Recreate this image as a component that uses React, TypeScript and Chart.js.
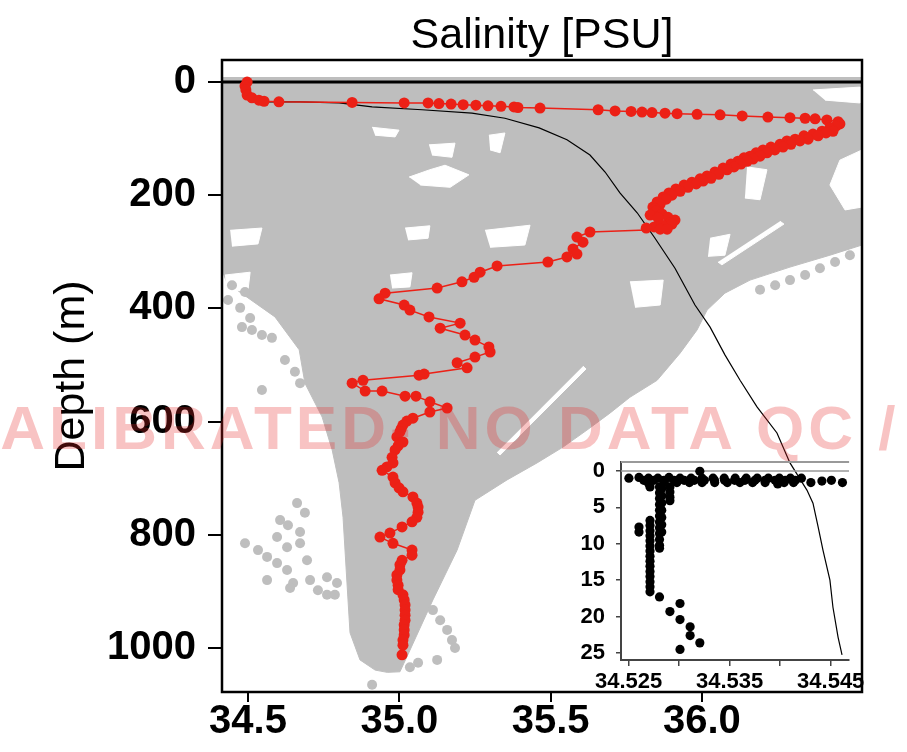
import React, { useEffect, useRef } from "react";
import { Chart, registerables } from "chart.js";
Chart.register(...registerables);

const FONT = "'Liberation Sans', Arial, Helvetica, sans-serif";
const RED = "rgb(236,32,22)";
const GRAY = "rgb(190,190,190)";

const TITLE = "Salinity [PSU]";
const Y_TITLE = "Depth (m)";
const WATERMARK = "UNCALIBRATED- NO DATA QC / UNCALIBRATED";

const X_TICKS = [34.5, 35.0, 35.5, 36.0];
const Y_TICKS = [0, 200, 400, 600, 800, 1000];
const X_RANGE = [34.414, 36.529];
const Y_RANGE = [-38.9, 1077.7];

const INSET_X_TICKS = [34.525, 34.53, 34.535, 34.54, 34.545];
const INSET_X_LABELED = [34.525, 34.535, 34.545];
const INSET_Y_TICKS = [0, 5, 10, 15, 20, 25];
const INSET_X_RANGE = [34.52425, 34.54682];
const INSET_Y_RANGE = [-1.22, 25.95];

// [salinity, depth]
const redProfile: [number, number][] = [
  [34.497, 0], [34.49, 7], [34.493, 14], [34.497, 23], [34.513, 28], [34.536, 32], [34.553, 34], [34.602, 35],
  [34.844, 36], [35.016, 37], [35.095, 37], [35.131, 38], [35.171, 39], [35.211, 40], [35.253, 41], [35.293, 42],
  [35.336, 43], [35.379, 44], [35.392, 45], [35.465, 46], [35.657, 49], [35.713, 51], [35.766, 52], [35.802, 53],
  [35.835, 54], [35.878, 55], [35.918, 56], [35.984, 57], [36.06, 58], [36.133, 60], [36.218, 62], [36.291, 63],
  [36.341, 64], [36.374, 65], [36.413, 67], [36.45, 70], [36.456, 74],
  [36.443, 78], [36.423, 81], [36.433, 87], [36.397, 87], [36.41, 90], [36.367, 92], [36.384, 95], [36.337, 95],
  [36.308, 101], [36.351, 101], [36.281, 104], [36.324, 104], [36.258, 110], [36.294, 110], [36.228, 115],
  [36.268, 115], [36.202, 120], [36.241, 120], [36.179, 125], [36.215, 125], [36.159, 131], [36.192, 131],
  [36.139, 134], [36.169, 136], [36.119, 140], [36.149, 140], [36.096, 145], [36.129, 145], [36.106, 150],
  [36.07, 152], [36.083, 155], [36.043, 159], [36.056, 163], [36.017, 166], [36.03, 170], [35.994, 171],
  [36.004, 175], [35.967, 177], [35.981, 180], [35.941, 182], [35.954, 186], [35.914, 189], [35.928, 193],
  [35.891, 196], [35.901, 200], [35.872, 203], [35.882, 207], [35.852, 212], [35.862, 216], [35.838, 221],
  [35.845, 224], [35.848, 228], [35.868, 233], [35.829, 235], [35.888, 239], [35.855, 240], [35.911, 244],
  [35.895, 249], [35.901, 251], [35.868, 253], [35.842, 256], [35.816, 258], [35.862, 260], [35.885, 260],
  [35.63, 265], [35.587, 274], [35.607, 283], [35.574, 295], [35.587, 304], [35.554, 309], [35.491, 318],
  [35.323, 325], [35.267, 336], [35.247, 345], [35.207, 353], [35.125, 364], [34.953, 373], [34.933, 383],
  [35.016, 394], [35.035, 403], [35.098, 415], [35.201, 426], [35.135, 435], [35.217, 447], [35.25, 456],
  [35.296, 468], [35.3, 477], [35.25, 486], [35.191, 496], [35.224, 505], [35.082, 516], [35.065, 518],
  [34.88, 527], [34.844, 532], [34.887, 546], [34.943, 546], [35.019, 555], [35.055, 555], [35.101, 565],
  [35.158, 576], [35.101, 583], [35.045, 594], [35.025, 599], [35.012, 606], [35.006, 613], [35.002, 618],
  [34.992, 627], [35.012, 636], [34.996, 643], [34.986, 650], [34.976, 663], [34.979, 673], [34.959, 680],
  [34.943, 686], [34.979, 698], [34.986, 708], [34.999, 717], [35.012, 724], [35.045, 733], [35.058, 744],
  [35.062, 751], [35.062, 760], [35.058, 769], [35.042, 777], [35.009, 786], [34.969, 797], [34.936, 804],
  [34.979, 815], [35.042, 827], [35.042, 836], [35.009, 845], [35.002, 853], [35.002, 862], [34.992, 871],
  [34.992, 880], [34.996, 889], [34.996, 897], [35.012, 906], [35.016, 915], [35.019, 924], [35.019, 933],
  [35.019, 942], [35.019, 951], [35.016, 959], [35.016, 968], [35.016, 977], [35.012, 986], [35.012, 995],
  [35.009, 1012],
];

const meanProfile: [number, number][] = [
  [34.523, 32], [34.546, 35], [34.672, 35], [34.801, 37], [34.91, 44], [35.075, 49], [35.24, 55], [35.349, 64],
  [35.462, 81], [35.554, 102], [35.63, 129], [35.68, 159], [35.729, 196], [35.786, 231], [35.845, 276],
  [35.911, 329], [35.977, 394], [36.027, 433], [36.076, 482], [36.126, 527], [36.182, 574], [36.248, 620],
  [36.291, 673], [36.347, 721], [36.367, 744], [36.384, 786], [36.4, 827], [36.423, 880], [36.433, 928],
  [36.45, 981], [36.463, 1012],
];

const surfaceLine: [number, number][] = [[34.3, 0], [36.7, 0]];

const cloudEnvelope: [number, number][] = [
  [34.3, -9], [34.3, 297], [34.414, 332], [34.43, 355], [34.589, 415], [34.669, 473], [34.688, 532],
  [34.745, 592], [34.778, 650], [34.801, 708], [34.814, 769], [34.827, 885], [34.837, 973], [34.87, 1021],
  [34.92, 1039], [34.96, 1043], [35.002, 1042], [35.035, 1004], [35.111, 915], [35.191, 827], [35.25, 739],
  [35.356, 703], [35.455, 673], [35.541, 645], [35.62, 615], [35.696, 585], [35.762, 557], [35.852, 527],
  [35.928, 479], [35.984, 438], [36.017, 403], [36.076, 373], [36.159, 350], [36.291, 327], [36.423, 306],
  [36.529, 288], [36.65, 261], [36.65, -9],
];

const cloudHoles: [number, number][][] = [
  [[35.032, 168], [35.101, 155], [35.151, 147], [35.23, 164], [35.168, 186], [35.069, 182]],
  [[34.91, 80], [34.999, 85], [34.986, 97], [34.92, 94]],
  [[35.098, 111], [35.184, 108], [35.174, 133], [35.108, 129]],
  [[35.296, 94], [35.349, 90], [35.333, 125], [35.3, 120]],
  [[36.529, 120], [36.456, 138], [36.423, 182], [36.473, 226], [36.572, 217]],
  [[36.367, 14], [36.522, 9], [36.522, 37], [36.407, 32]],
  [[36.258, 246], [36.271, 251], [36.066, 323], [36.053, 318]],
  [[36.149, 150], [36.215, 155], [36.192, 208], [36.142, 205]],
  [[36.027, 276], [36.093, 269], [36.076, 306], [36.02, 308]],
  [[35.607, 502], [35.617, 507], [35.333, 659], [35.323, 654]],
  [[35.762, 353], [35.872, 350], [35.862, 394], [35.779, 398]],
  [[34.424, 341], [34.507, 336], [34.5, 367], [34.427, 371]],
  [[34.441, 262], [34.546, 258], [34.533, 286], [34.447, 290]],
  [[35.019, 258], [35.101, 254], [35.095, 276], [35.029, 279]],
  [[35.283, 262], [35.432, 253], [35.415, 288], [35.3, 292]],
  [[34.969, 341], [35.042, 337], [35.035, 362], [34.976, 364]],
];

const cloudDots: [number, number][] = [
  [34.434, 385], [34.474, 399], [34.507, 417], [34.48, 433], [34.513, 438], [34.546, 447], [34.579, 452],
  [34.546, 544], [34.622, 491], [34.655, 512], [34.672, 532], [34.49, 371], [34.447, 359],
  [34.662, 744], [34.688, 761], [34.606, 774], [34.632, 783], [34.596, 804], [34.672, 795], [34.49, 815],
  [34.533, 827], [34.563, 839], [34.629, 822], [34.672, 815], [34.695, 845], [34.596, 850], [34.629, 862],
  [34.563, 880], [34.649, 885], [34.705, 880], [34.761, 875], [34.794, 885], [34.731, 898], [34.761, 906],
  [34.787, 906], [34.639, 894],
  [35.111, 933], [35.135, 951], [35.158, 968], [35.174, 986], [35.184, 1000], [35.125, 1021], [35.062, 1026],
  [35.035, 1034], [34.91, 1065],
  [36.192, 367], [36.242, 359], [36.291, 350], [36.341, 341], [36.39, 329], [36.44, 318], [36.489, 306],
];

const insetPoints: [number, number][] = [
  [34.52503, 1.0], [34.52603, 0.9], [34.52697, 1.0], [34.5279, 1.0], [34.529, 0.9], [34.53009, 1.0],
  [34.53118, 1.0], [34.53227, 1.0], [34.53336, 1.0], [34.53446, 1.0], [34.53555, 1.0], [34.53664, 1.0],
  [34.53773, 1.0], [34.53883, 1.0], [34.53992, 1.0], [34.54101, 1.0], [34.5421, 1.0],
  [34.52697, 1.7], [34.52853, 1.6], [34.52978, 1.6], [34.53102, 1.6], [34.53227, 1.6], [34.53352, 1.6],
  [34.53477, 1.6], [34.53602, 1.6], [34.53727, 1.6], [34.53851, 1.6], [34.53976, 1.8], [34.54039, 1.6],
  [34.54132, 1.6], [34.54304, 1.6], [34.54413, 1.4], [34.54507, 1.3], [34.54616, 1.6], [34.53205, 0.05],
  [34.5265, 1.3], [34.5275, 1.3], [34.5285, 1.3], [34.5295, 1.3], [34.5305, 1.3], [34.5315, 1.3],
  [34.5325, 1.3], [34.5335, 1.3], [34.5345, 1.3], [34.5355, 1.3], [34.5365, 1.3], [34.5375, 1.3],
  [34.5385, 1.3], [34.5395, 1.3], [34.5405, 1.3], [34.5415, 1.3],
  [34.52806, 2.2], [34.52806, 3.0], [34.52806, 3.8], [34.52806, 4.6], [34.52806, 5.4], [34.52806, 6.2],
  [34.52806, 7.0], [34.52806, 7.8], [34.52806, 8.6], [34.52806, 9.4], [34.52806, 10.2], [34.52806, 10.6],
  [34.52828, 2.4], [34.52828, 3.4], [34.52828, 4.4], [34.52828, 5.4], [34.52828, 6.4], [34.52828, 7.4],
  [34.52828, 8.4],
  [34.52712, 2.2], [34.52712, 6.8], [34.52712, 7.5], [34.52712, 8.2], [34.52712, 8.9], [34.52712, 9.6],
  [34.52712, 10.3], [34.52712, 11.0], [34.52712, 11.7], [34.52712, 12.4], [34.52712, 13.1], [34.52712, 13.8],
  [34.52712, 14.5], [34.52712, 15.2], [34.52712, 15.9], [34.52712, 16.6],
  [34.52603, 7.7], [34.52603, 8.4],
  [34.52909, 2.2], [34.52909, 2.9], [34.52909, 3.6], [34.52909, 4.1],
  [34.52806, 17.3], [34.52909, 19.3], [34.53009, 18.2], [34.53009, 20.4], [34.53109, 21.4], [34.53109, 22.6],
  [34.53205, 23.6], [34.53009, 24.5],
];

const insetZeroLine: [number, number][] = [[34.52, 0], [34.55, 0]];

const toPts = (a: [number, number][]) => a.map(([x, y]) => ({ x, y }));

const framePlugin = {
  id: "frame",
  afterDraw(chart: any) {
    const { ctx, chartArea: a } = chart;
    ctx.save();
    ctx.strokeStyle = "#000";
    ctx.lineWidth = 2.5;
    ctx.strokeRect(a.left, a.top, a.right - a.left, a.bottom - a.top);
    ctx.restore();
  },
};

const insetTopPlugin = {
  id: "insetTop",
  afterDraw(chart: any) {
    const { ctx, chartArea: a } = chart;
    ctx.save();
    ctx.strokeStyle = "#999";
    ctx.lineWidth = 2;
    ctx.beginPath();
    ctx.moveTo(a.left, a.top);
    ctx.lineTo(a.right, a.top);
    ctx.stroke();
    ctx.restore();
  },
};

function MainChart() {
  const ref = useRef<HTMLCanvasElement>(null);
  useEffect(() => {
    const shapeSet = (pts: [number, number][], color: string, order: number) => ({
      type: "line" as const,
      data: toPts(pts),
      fill: "shape",
      backgroundColor: color,
      borderColor: color,
      borderWidth: 1,
      pointRadius: 0,
      tension: 0,
      order,
    });
    const chart = new Chart(ref.current!, {
      type: "line",
      data: {
        datasets: [
          {
            type: "line",
            label: "profile",
            data: toPts(redProfile),
            borderColor: RED,
            borderWidth: 1.5,
            pointRadius: 5.5,
            pointBackgroundColor: RED,
            pointBorderWidth: 0,
            tension: 0,
            fill: false,
            order: 0,
          },
          {
            type: "line",
            label: "surface",
            data: toPts(surfaceLine),
            borderColor: "#000",
            borderWidth: 3,
            pointRadius: 0,
            fill: false,
            order: 1,
          },
          {
            type: "line",
            label: "mean",
            data: toPts(meanProfile),
            borderColor: "#000",
            borderWidth: 1.2,
            pointRadius: 0,
            tension: 0,
            fill: false,
            order: 2,
          },
          {
            type: "line",
            label: "cloud dots",
            data: toPts(cloudDots),
            showLine: false,
            pointRadius: 5,
            pointBackgroundColor: GRAY,
            pointBorderWidth: 0,
            order: 3,
          },
          ...cloudHoles.map((h) => shapeSet(h, "#ffffff", 4)),
          shapeSet(cloudEnvelope, GRAY, 5),
        ] as any,
      },
      options: {
        responsive: false,
        animation: false,
        devicePixelRatio: 1,
        events: [],
        layout: { padding: { left: 0, right: 45, top: 0, bottom: 0 } },
        plugins: {
          legend: { display: false },
          tooltip: { enabled: false },
          title: {
            display: true,
            text: TITLE,
            fullSize: false,
            color: "#000",
            font: { family: FONT, size: 43, weight: "normal", lineHeight: 1.1 },
            padding: { top: 12.7, bottom: 0 },
          },
        },
        scales: {
          x: {
            type: "linear",
            min: X_RANGE[0],
            max: X_RANGE[1],
            afterBuildTicks: (s: any) => {
              s.ticks = X_TICKS.map((v) => ({ value: v }));
            },
            afterFit: (s: any) => {
              s.height = 60;
            },
            ticks: {
              callback: (v: any) => Number(v).toFixed(1),
              color: "#000",
              font: { family: FONT, size: 40, weight: "bold", lineHeight: 1 },
              padding: 0,
              maxRotation: 0,
              autoSkip: false,
            },
            grid: { drawOnChartArea: false, drawTicks: true, tickLength: 10, color: "#000", lineWidth: 2 },
            border: { display: false },
          },
          y: {
            type: "linear",
            reverse: true,
            min: Y_RANGE[0],
            max: Y_RANGE[1],
            afterBuildTicks: (s: any) => {
              s.ticks = Y_TICKS.map((v) => ({ value: v }));
            },
            afterFit: (s: any) => {
              s.width = 222;
            },
            ticks: {
              callback: (v: any) => String(v),
              color: "#000",
              font: { family: FONT, size: 40, weight: "bold", lineHeight: 1 },
              padding: 12,
              autoSkip: false,
            },
            grid: { drawOnChartArea: false, drawTicks: true, tickLength: 14, color: "#000", lineWidth: 2 },
            border: { display: false },
            title: {
              display: true,
              text: Y_TITLE,
              color: "#000",
              font: { family: FONT, size: 43, weight: "normal", lineHeight: 1.2 },
              padding: { top: 46, bottom: 0 },
            },
          },
        },
      } as any,
      plugins: [framePlugin],
    });
    return () => chart.destroy();
  }, []);
  return (
    <canvas
      ref={ref}
      width={907}
      height={752}
      style={{ position: "absolute", left: 0, top: 0, width: 907, height: 752 }}
    />
  );
}

function InsetChart() {
  const ref = useRef<HTMLCanvasElement>(null);
  useEffect(() => {
    const chart = new Chart(ref.current!, {
      type: "line",
      data: {
        datasets: [
          {
            type: "line",
            label: "surface obs",
            data: toPts(insetPoints),
            showLine: false,
            pointRadius: 4.6,
            pointBackgroundColor: "#000",
            pointBorderWidth: 0,
            order: 0,
          },
          {
            type: "line",
            label: "zero",
            data: toPts(insetZeroLine),
            borderColor: "#999",
            borderWidth: 1.5,
            pointRadius: 0,
            fill: false,
            order: 1,
          },
        ] as any,
      },
      options: {
        responsive: false,
        animation: false,
        devicePixelRatio: 1,
        events: [],
        layout: { padding: { left: 0, right: 8, top: 19, bottom: 0 } },
        plugins: { legend: { display: false }, tooltip: { enabled: false }, title: { display: false } },
        scales: {
          x: {
            type: "linear",
            min: INSET_X_RANGE[0],
            max: INSET_X_RANGE[1],
            afterBuildTicks: (s: any) => {
              s.ticks = INSET_X_TICKS.map((v) => ({ value: v }));
            },
            afterFit: (s: any) => {
              s.height = 50;
            },
            ticks: {
              callback: (v: any) =>
                INSET_X_LABELED.some((t) => Math.abs(t - Number(v)) < 1e-7) ? Number(v).toFixed(3) : "",
              color: "#000",
              font: { family: FONT, size: 22, weight: "bold", lineHeight: 1 },
              padding: 5,
              maxRotation: 0,
              autoSkip: false,
            },
            grid: { drawOnChartArea: false, drawTicks: true, tickLength: 6, color: "#444", lineWidth: 1.5 },
            border: { display: true, color: "#444", width: 2 },
          },
          y: {
            type: "linear",
            reverse: true,
            min: INSET_Y_RANGE[0],
            max: INSET_Y_RANGE[1],
            afterBuildTicks: (s: any) => {
              s.ticks = INSET_Y_TICKS.map((v) => ({ value: v }));
            },
            afterFit: (s: any) => {
              s.width = 81;
            },
            ticks: {
              callback: (v: any) => String(v),
              color: "#000",
              font: { family: FONT, size: 22, weight: "bold", lineHeight: 1 },
              padding: 11,
              autoSkip: false,
            },
            grid: { drawOnChartArea: false, drawTicks: true, tickLength: 5, color: "#444", lineWidth: 1.5 },
            border: { display: true, color: "#444", width: 2 },
          },
        },
      } as any,
      plugins: [insetTopPlugin],
    });
    return () => chart.destroy();
  }, []);
  return (
    <canvas
      ref={ref}
      width={330}
      height={270}
      style={{ position: "absolute", left: 540, top: 440, width: 330, height: 270 }}
    />
  );
}

export default function App() {
  return (
    <div
      style={{
        position: "absolute",
        left: 0,
        top: 0,
        width: 907,
        height: 752,
        overflow: "hidden",
        background: "#fff",
      }}
    >
      <MainChart />
      <div
        style={{
          position: "absolute",
          left: -146,
          top: 397,
          whiteSpace: "nowrap",
          fontFamily: FONT,
          fontWeight: "bold",
          fontSize: 62,
          lineHeight: "62px",
          letterSpacing: 4,
          color: "rgba(230,40,40,0.28)",
          pointerEvents: "none",
        }}
      >
        {WATERMARK}
      </div>
      <InsetChart />
    </div>
  );
}
